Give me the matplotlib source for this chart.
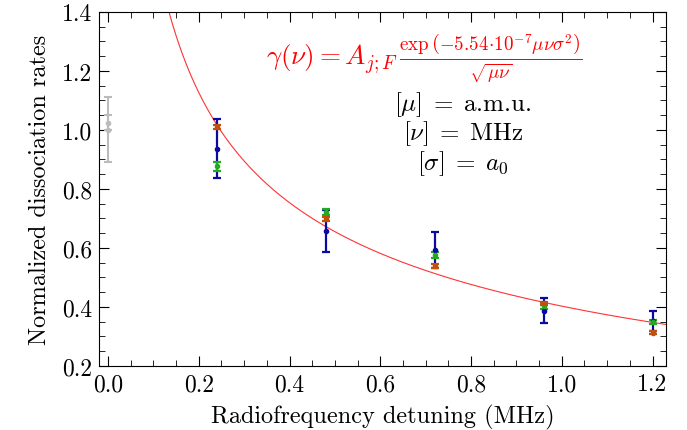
import numpy as np
import matplotlib
matplotlib.use("Agg")
import matplotlib.pyplot as plt

plt.rcParams['font.family'] = 'serif'
plt.rcParams['font.serif'] = ['cmr10']
plt.rcParams['mathtext.fontset'] = 'cm'
plt.rcParams['axes.formatter.use_mathtext'] = True

# reference point at zero detuning
x_ref = [0.0, 0.0]
y_ref = [1.025, 1.0]
err_ref = [0.025, 0.11]

# detuned measurements
x_pts = [0.24, 0.48, 0.72, 0.96, 1.20]
y_blue = [0.937, 0.658, 0.593, 0.387, 0.353]
err_blue = [0.100, 0.072, 0.061, 0.042, 0.034]
y_green = [0.877, 0.722, 0.575, 0.402, 0.349]
err_green = [0.015, 0.010, 0.010, 0.008, 0.006]
y_orange = [1.010, 0.698, 0.538, 0.412, 0.313]
err_orange = [0.008, 0.008, 0.007, 0.006, 0.006]

# fitted curve parameters
A_fit = 0.533
b_fit = 0.28

fig = plt.figure(figsize=(6.87, 4.31), dpi=100)
ax = fig.add_axes([0.144, 0.1485, 0.825, 0.8215])

nu = np.linspace(0.05, 1.3, 400)
ax.plot(nu, A_fit / np.sqrt(nu) * np.exp(-b_fit * nu), color='#ff3333', lw=0.8)

ax.errorbar(x_ref, y_ref, yerr=err_ref, fmt='o', color='#bbbbbb', ms=3,
            elinewidth=1.5, capsize=3, capthick=1.5)
ax.errorbar(x_pts, y_blue, yerr=err_blue, fmt='o', color='#0a0aa0', ms=3,
            elinewidth=1.6, capsize=3, capthick=1.6)
ax.errorbar(x_pts, y_green, yerr=err_green, fmt='o', color='#22aa22', ms=3,
            elinewidth=1.6, capsize=3, capthick=1.6)
ax.errorbar(x_pts, y_orange, yerr=err_orange, fmt='o', color='#c0500a', ms=3,
            elinewidth=1.6, capsize=3, capthick=1.6)

ax.set_xlim(-0.02, 1.229)
ax.set_ylim(0.2, 1.4)
ax.set_xticks(np.arange(0, 1.21, 0.2))
ax.set_yticks(np.arange(0.2, 1.41, 0.2))
ax.set_xticks(np.arange(0, 1.23, 0.05), minor=True)
ax.set_yticks(np.arange(0.2, 1.41, 0.05), minor=True)
ax.xaxis.set_major_formatter(matplotlib.ticker.FormatStrFormatter('%.1f'))
ax.yaxis.set_major_formatter(matplotlib.ticker.FormatStrFormatter('%.1f'))
ax.tick_params(which='both', direction='in', top=True, right=True, labelsize=17)
ax.tick_params(which='major', length=7, pad=5)
ax.tick_params(which='minor', length=4)

ax.set_xlabel('Radiofrequency detuning (MHz)', fontsize=17.5, labelpad=6)
ax.set_ylabel('Normalized dissociation rates', fontsize=17.5, labelpad=8)

ax.text(0.697, 1.245,
        r'$\gamma(\nu) = A_{j;F}\,\frac{\exp\left(-5.54\!\cdot\!10^{-7}\mu\nu\sigma^2\right)}{\sqrt{\mu\nu}}$',
        color='red', fontsize=19.5, ha='center', va='center')
ax.text(0.782, 1.09, r'$[\mu]\;=\;$a.m.u.', fontsize=18, ha='center', va='center')
ax.text(0.782, 0.99, r'$[\nu]\;=\;$MHz', fontsize=18, ha='center', va='center')
ax.text(0.782, 0.89, r'$[\sigma]\;=\;a_0$', fontsize=18, ha='center', va='center')

fig.savefig('out.png', dpi=100)
